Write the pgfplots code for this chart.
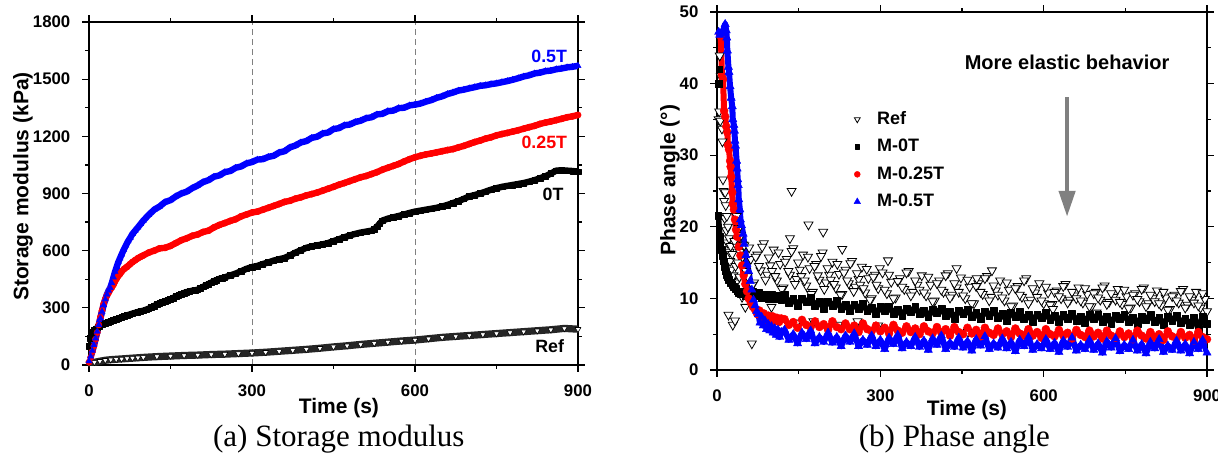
\documentclass[border=0pt]{standalone}
\usepackage{pgfplots}
\pgfplotsset{compat=1.18}
\usetikzlibrary{arrows.meta}
\usepackage{fontspec}
\setmainfont{Liberation Sans}
\newfontfamily\capfont{Liberation Serif}

\pgfplotsset{
 myax/.style={
  scale only axis,
  xmin=0, xmax=900,
  xtick={0,300,600,900},
  minor x tick num=1,
  tick align=outside,
  major tick length=3.3pt,
  minor tick length=1.8pt,
  axis line style={line width=0.6pt},
  tick style={black, line width=0.6pt},
  tick label style={font=\bfseries\fontsize{8.4}{10}\selectfont},
  /pgf/number format/assume math mode=true,
  /pgf/number format/1000 sep={},
  label style={font=\bfseries\fontsize{10.5}{12}\selectfont},
  xticklabel style={yshift=-3pt},
  yticklabel style={xshift=-2.5pt},
 }
}

\begin{document}
\begin{tikzpicture}
\path[use as bounding box] (0,0) rectangle (609pt,227.5pt);

% ---------------- (a) Storage modulus ----------------
\begin{axis}[myax, at={(44.5pt,45pt)}, anchor=south west,
  width=244.5pt, height=171.5pt,
  ymin=0, ymax=1800, ytick={0,300,...,1800}, minor y tick num=1,
  xmajorgrids, grid style={densely dashed, gray, line width=0.4pt},
  xlabel={Time (s)}, ylabel={Storage modulus (kPa)},
  xlabel style={at={(axis description cs:0.511,-0.125)}, anchor=center},
  ylabel style={at={(axis description cs:-0.135,0.52)}, anchor=center},
]
% Ref
\addplot[black!85, line width=3.6pt, line join=round, mark=triangle*, mark size=1.7pt,
  mark options={solid, line width=0.3pt, draw=black, fill=white, rotate=180}]
coordinates {(0,8)(10,14)(20,20)(30,25)(40,28)(50,30)(60,32)(70,34)(80,36)(90,38)(100,40)(125,44)(150,47)(175,50)(200,52)(225,55)(250,57)(275,60)(300,63)(325,67)(350,72)(375,77)(400,82)(425,88)(450,95)(475,101)(500,108)(525,114)(550,120)(575,126)(600,131)(625,138)(650,145)(675,150)(700,155)(725,160)(750,165)(775,170)(800,175)(825,180)(850,185)(875,192)(900,188)};
% 0T
\addplot[black, line width=3.2pt, line join=round, mark=square*, mark size=1.4pt, mark options={solid, line width=0.2pt}]
coordinates {(0,100)(2,140)(4,160)(6,170)(8,175)(10,182)(13,190)(16,198)(20,205)(25,212)(30,220)(35,225)(40,230)(45,236)(50,240)(55,245)(60,250)(65,255)(70,260)(75,265)(80,270)(85,274)(90,278)(95,282)(100,285)(105,290)(110,296)(115,302)(120,310)(125,318)(130,325)(135,330)(140,335)(145,340)(150,345)(155,352)(160,360)(165,366)(170,372)(175,378)(180,383)(185,386)(190,390)(195,392)(200,395)(205,402)(210,410)(215,418)(220,425)(225,432)(230,440)(235,446)(240,452)(245,456)(250,460)(260,470)(270,480)(280,492)(290,505)(300,514)(310,520)(320,530)(330,538)(340,548)(350,555)(360,562)(370,575)(380,590)(390,602)(400,615)(410,622)(420,628)(430,633)(440,640)(450,650)(460,660)(470,670)(480,680)(490,688)(500,695)(510,700)(520,705)(525,712)(530,725)(535,742)(540,758)(550,768)(560,775)(570,782)(580,790)(590,798)(600,805)(610,810)(620,815)(630,820)(640,825)(650,832)(660,840)(670,850)(680,860)(690,872)(700,885)(710,892)(720,900)(730,910)(740,920)(750,928)(760,935)(770,940)(780,945)(790,950)(800,955)(810,962)(820,970)(830,980)(840,990)(850,1005)(860,1020)(870,1022)(880,1020)(890,1018)(900,1015)};
% 0.25T
\addplot[red, line width=3.2pt, line join=round, mark=*, mark size=1.6pt, mark options={solid, line width=0.2pt}]
coordinates {(0,15)(3,40)(6,70)(9,100)(12,135)(15,170)(18,210)(21,250)(24,285)(27,320)(30,345)(33,365)(36,380)(39,395)(42,408)(45,422)(48,440)(51,455)(54,468)(57,478)(60,490)(65,505)(70,515)(75,528)(80,540)(85,550)(90,560)(95,568)(100,575)(110,590)(120,600)(130,612)(140,615)(150,625)(160,640)(170,655)(180,665)(190,678)(200,685)(210,698)(220,705)(230,722)(240,735)(250,745)(260,756)(270,765)(280,780)(290,790)(300,800)(310,805)(320,815)(330,825)(340,835)(350,845)(360,856)(370,862)(380,873)(390,880)(400,890)(410,897)(420,905)(430,915)(440,925)(450,935)(460,946)(470,955)(480,965)(490,975)(500,985)(510,992)(520,1002)(530,1012)(540,1025)(550,1035)(560,1045)(570,1055)(580,1068)(590,1080)(600,1090)(610,1098)(620,1105)(630,1110)(640,1116)(650,1122)(660,1128)(670,1133)(680,1142)(690,1150)(700,1160)(710,1170)(720,1178)(730,1188)(740,1195)(750,1205)(760,1212)(770,1218)(780,1225)(790,1232)(800,1240)(810,1248)(820,1255)(830,1265)(840,1272)(850,1278)(860,1285)(870,1292)(880,1300)(890,1305)(900,1312)};
% 0.5T
\addplot[blue, line width=3.2pt, line join=round, mark=triangle*, mark size=1.8pt, mark options={solid, line width=0.2pt}]
coordinates {(0,20)(3,45)(6,75)(9,105)(12,140)(15,175)(18,210)(21,245)(24,280)(27,315)(30,345)(33,370)(36,390)(39,405)(42,430)(45,460)(48,490)(51,515)(54,540)(57,560)(60,580)(64,605)(68,628)(72,650)(76,668)(80,688)(85,705)(90,722)(95,740)(100,758)(110,788)(120,815)(130,832)(140,855)(150,865)(160,885)(170,900)(180,910)(190,928)(200,942)(210,960)(220,970)(230,988)(240,995)(250,1012)(260,1018)(270,1035)(280,1042)(290,1058)(300,1065)(310,1078)(320,1080)(330,1092)(340,1098)(350,1115)(360,1122)(370,1142)(380,1152)(390,1168)(400,1175)(410,1192)(420,1198)(430,1215)(440,1220)(450,1238)(460,1243)(470,1258)(480,1262)(490,1275)(500,1282)(510,1295)(520,1300)(530,1315)(540,1318)(550,1332)(560,1335)(570,1348)(580,1350)(590,1362)(600,1366)(610,1372)(620,1382)(630,1390)(640,1402)(650,1410)(660,1422)(670,1430)(680,1440)(690,1445)(700,1452)(710,1458)(720,1465)(730,1468)(740,1474)(750,1478)(760,1484)(770,1490)(780,1497)(790,1505)(800,1514)(810,1520)(820,1530)(830,1534)(840,1542)(850,1545)(860,1552)(870,1556)(880,1562)(890,1565)(900,1570)};

\node[font=\bfseries\fontsize{8.9}{10}\selectfont, blue] at (axis cs:847,1621) {0.5T};
\node[font=\bfseries\fontsize{8.9}{10}\selectfont, red] at (axis cs:838,1168) {0.25T};
\node[font=\bfseries\fontsize{8.9}{10}\selectfont, black] at (axis cs:854,897) {0T};
\node[font=\bfseries\fontsize{8.9}{10}\selectfont, black] at (axis cs:848,100) {Ref};
\end{axis}

% ---------------- (b) Phase angle ----------------
\begin{axis}[myax, at={(358.5pt,42.5pt)}, anchor=south west,
  width=245pt, height=179pt,
  ymin=0, ymax=50, ytick={0,10,...,50}, minor y tick num=1,
  xlabel={Time (s)}, ylabel={Phase angle (°)},
  xlabel style={at={(axis description cs:0.51,-0.112)}, anchor=center},
  ylabel style={at={(axis description cs:-0.096,0.53)}, anchor=center},
  legend style={draw=none, fill=none, at={(axis cs:225,37.3)}, anchor=north west,
    font=\bfseries\fontsize{9}{10}\selectfont, row sep=1.9pt},
  legend cell align=left,
]
% Ref
\addplot[only marks, mark=triangle*, mark size=2.6pt,
  mark options={draw=black, fill=white, line width=0.4pt, rotate=180},
  legend image code/.code={\path[draw=none, fill=none] (0cm,-0.05cm) rectangle (0.48cm,0.05cm);
    \draw[black, fill=white, line width=0.4pt] plot[only marks, mark=triangle*, mark size=1.7pt, mark options={rotate=180}] coordinates {(0.2cm,0cm)};}]
coordinates {
(3,35.0)(4,36.1)(5,43.9)(6,34.8)(7,41.0)(9,33.7)(10,31.9)(11,26.6)(12,25.0)(13,23.6)(14,21.2)(15,24.8)(16,23.0)(17,19.5)(18,21.5)(19,17.8)(20,20.0)(21,7.7)(22,18.4)(23,16.5)(24,15.2)(25,17.3)(26,14.0)(27,12.4)(28,16.2)(29,6.3)(30,13.2)(31,11.7)(32,18.0)(33,6.9)(34,14.5)(35,12.2)(36,21.5)(37,17.2)(38,15.0)(40,19.8)(41,13.0)(42,16.5)(43,11.0)(44,18.8)(46,10.2)(47,15.8)(48,17.5)(52,8.8)(58,10.4)(64,3.7)
(50,17.4)(56,13.1)(62,15.5)(68,12.2)(74,16.1)(80,13.9)(86,17.7)(92,13.3)(98,14.6)(104,16.8)(110,12.5)(116,14.8)(122,11.5)(128,15.5)(134,13.3)(140,17.0)(146,12.7)(152,14.0)(158,16.1)(164,11.8)(170,14.2)(176,10.9)(182,14.8)(188,12.6)(194,16.4)(200,12.2)(206,13.3)(212,15.1)(218,11.5)(224,13.4)(230,10.6)(236,14.0)(242,12.1)(248,15.2)(254,11.6)(260,12.7)(266,14.4)(272,10.8)(278,12.8)(284,10.0)(290,13.3)(296,11.4)
(53,13.8)(59,17.1)(65,11.9)(71,15.8)(77,14.5)(83,17.2)(89,12.6)(95,15.7)(101,13.8)(107,13.1)(113,16.4)(119,11.3)(125,15.1)(131,13.8)(137,16.6)(143,12.0)(149,15.0)(155,13.1)(161,12.5)(167,15.8)(173,10.6)(179,14.5)(185,13.2)(191,15.9)(197,11.3)(203,14.2)(209,12.6)(215,12.0)(221,14.8)(227,10.5)(233,13.6)(239,12.5)(245,14.9)(251,11.0)(257,13.5)(263,11.9)(269,11.4)(275,14.1)(281,9.8)(287,13.0)(293,11.9)(299,14.2)
(304,13.6)(312,10.7)(320,12.3)(328,10.1)(336,12.8)(344,11.3)(352,13.8)(360,10.9)(368,11.9)(376,13.2)(384,10.4)(392,11.9)(400,9.7)(408,12.5)(416,10.9)(424,13.5)(432,10.5)(440,11.5)(448,12.9)(456,10.0)(464,11.6)(472,9.3)(480,12.1)(488,10.6)(496,13.1)(504,10.2)(512,11.1)(520,12.5)(528,9.7)(536,11.2)(544,9.0)(552,11.7)(560,10.2)(568,12.8)(576,9.8)(584,10.8)(592,12.1)(600,9.3)
(608,10.8)(616,9.2)(624,11.1)(632,10.0)(640,12.0)(648,9.8)(656,10.4)(664,11.5)(672,9.4)(680,10.6)(688,8.9)(696,10.9)(704,9.8)(712,11.8)(720,9.5)(728,10.2)(736,11.3)(744,9.2)(752,10.3)(760,8.7)(768,10.7)(776,9.6)(784,11.5)(792,9.3)(800,10.0)(808,11.1)(816,9.0)(824,10.1)(832,8.5)(840,10.5)(848,9.4)(856,11.3)(864,9.1)(872,9.8)(880,10.9)(888,8.7)(896,9.9)
(308,11.2)(316,13.3)(324,10.0)(332,12.4)(340,11.6)(348,13.6)(356,10.4)(364,12.5)(372,11.2)(380,10.8)(388,13.0)(396,9.6)(404,12.1)(412,11.2)(420,13.2)(428,10.1)(436,12.1)(444,10.9)(452,10.4)(460,12.6)(468,9.3)(476,11.7)(484,10.9)(492,12.8)(500,9.7)(508,11.8)(516,10.5)(524,10.1)(532,12.2)(540,8.9)(548,11.4)(556,10.5)(564,12.5)(572,9.3)(580,11.4)(588,10.2)(596,9.7)
(604,11.6)(612,9.1)(620,10.9)(628,10.3)(636,11.7)(644,9.4)(652,10.9)(660,10.0)(668,9.7)(676,11.4)(684,8.9)(692,10.7)(700,10.1)(708,11.5)(716,9.2)(724,10.7)(732,9.8)(740,9.5)(748,11.2)(756,8.6)(764,10.5)(772,9.9)(780,11.3)(788,8.9)(796,10.5)(804,9.6)(812,9.3)(820,10.9)(828,8.4)(836,10.3)(844,9.7)(852,11.0)(860,8.7)(868,10.3)(876,9.4)(884,9.0)(892,10.7)(900,8.2)
(137,25.0)(168,20.3)(195,19.3)(230,16.9)(134,18.4)(314,15.3)(100,8.8)(146,6.6)(177,6.8)(222,6.3)(258,6.8)(296,6.2)(461,5.3)(617,8.5)(697,8.0)(477,12.8)(440,14.2)(505,13.9)};
\addlegendentry{Ref}
% M-0T
\addplot[black, line width=3pt, line join=round, mark=square*, mark size=1.7pt,
  mark options={solid, draw=black, fill=black, line width=0.2pt},
  legend image code/.code={\path[draw=none, fill=none] (0cm,-0.05cm) rectangle (0.48cm,0.05cm);
    \draw[black, fill=black, line width=0.2pt] plot[only marks, mark=square*, mark size=1.2pt] coordinates {(0.2cm,0cm)};}]
coordinates {
(2,21.5)(5,18.7)(6,17.5)(8,16.8)(10,16.0)(12,15.2)(14,14.4)(16,13.8)(18,13.3)(20,13.0)(22,12.6)(25,12.2)(28,11.9)(31,11.6)(34,11.3)(37,11.0)(40,10.8)(44,10.6)(48,10.9)(52,10.3)(56,10.7)(60,10.2)(65,10.9)(70,10.4)(76,10.8)(82,10.1)(88,10.6)(94,10.0)(100,10.5)(106,9.9)(112,10.4)(118,9.8)
(124,10.5)(132,9.4)(140,10.0)(148,9.0)(156,10.0)(164,9.5)(172,10.1)(180,9.0)(188,9.6)(196,8.6)(204,9.6)(212,9.0)(220,9.7)(228,8.6)(236,9.1)(244,8.2)(252,9.2)(260,8.6)(268,9.3)(276,8.2)(284,8.7)(292,7.8)(300,8.8)
(308,8.3)(316,8.9)(324,7.9)(332,8.5)(340,7.6)(348,8.6)(356,8.1)(364,8.8)(372,7.8)(380,8.3)(388,7.4)(396,8.5)(404,8.0)(412,8.6)(420,7.6)(428,8.2)(436,7.2)(444,8.3)(452,7.8)(460,8.5)(468,7.4)(476,8.0)(484,7.1)(492,8.2)(500,7.6)(508,8.3)(516,7.3)(524,7.9)(532,6.9)(540,8.0)(548,7.5)(556,8.1)(564,7.1)(572,7.7)(580,6.8)(588,7.8)(596,7.3)
(604,8.0)(612,7.0)(620,7.6)(628,6.7)(636,7.7)(644,7.2)(652,7.9)(660,6.9)(668,7.5)(676,6.6)(684,7.7)(692,7.2)(700,7.8)(708,6.8)(716,7.4)(724,6.5)(732,7.6)(740,7.1)(748,7.8)(756,6.7)(764,7.3)(772,6.4)(780,7.5)(788,7.0)(796,7.7)(804,6.7)(812,7.3)(820,6.3)(828,7.4)(836,6.9)(844,7.6)(852,6.6)(860,7.2)(868,6.3)(876,7.3)(884,5.8)(892,7.5)(900,6.5)};
\addlegendentry{M-0T}
% M-0.25T
\addplot[red, line width=3pt, line join=round, mark=*, mark size=2pt,
  mark options={solid, draw=red, fill=red, line width=0.2pt},
  legend image code/.code={\path[draw=none, fill=none] (0cm,-0.05cm) rectangle (0.48cm,0.05cm);
    \draw[red, fill=red, line width=0.2pt] plot[only marks, mark=*, mark size=1.5pt] coordinates {(0.2cm,0cm)};}]
coordinates {
(5,47.0)(7,46.6)(9,41.2)(11,40.6)(13,36.2)(15,35.4)(17,34.0)(19,33.2)(20,31.4)(22,30.8)(24,29.2)(25,28.4)(26,27.0)(28,24.8)(29,23.2)(31,22.4)(33,21.0)(35,19.6)(37,18.6)(40,17.2)(43,16.0)(46,14.6)(49,13.2)(52,12.0)(55,11.0)(58,10.0)(62,9.4)(66,8.8)(70,8.4)(74,7.8)(78,8.3)(82,7.4)(86,7.9)(90,7.0)(94,7.6)(98,6.9)(102,7.5)(106,6.8)(110,7.3)(114,6.7)(118,7.2)
(124,7.1)(132,6.3)(140,6.7)(148,5.9)(156,7.0)(164,6.3)(172,6.0)(180,6.8)(188,6.0)(196,6.4)(204,5.6)(212,6.8)(220,6.0)(228,5.7)(236,6.5)(244,5.7)(252,6.2)(260,5.3)(268,6.5)(276,5.7)(284,5.4)(292,6.2)(300,5.4)
(308,5.9)(316,5.1)(324,6.3)(332,5.5)(340,5.2)(348,6.1)(356,5.3)(364,5.8)(372,5.0)(380,6.1)(388,5.4)(396,5.1)(404,6.0)(412,5.2)(420,5.7)(428,4.8)(436,6.0)(444,5.3)(452,5.0)(460,5.9)(468,5.1)(476,5.6)(484,4.7)(492,5.9)(500,5.2)(508,4.9)(516,5.8)(524,5.0)(532,5.4)(540,4.6)(548,5.8)(556,5.1)(564,4.8)(572,5.7)(580,4.8)(588,5.3)(596,4.5)
(604,5.7)(612,5.0)(620,4.7)(628,5.6)(636,4.8)(644,5.2)(652,4.4)(660,5.6)(668,4.9)(676,4.6)(684,5.5)(692,4.7)(700,5.2)(708,4.4)(716,5.5)(724,4.8)(732,4.5)(740,5.4)(748,4.6)(756,5.1)(764,4.3)(772,5.5)(780,4.8)(788,4.4)(796,5.3)(804,4.5)(812,5.0)(820,4.2)(828,5.4)(836,4.7)(844,4.4)(852,5.3)(860,4.5)(868,4.9)(876,4.1)(884,5.3)(892,4.6)(900,4.3)};
\addlegendentry{M-0.25T}
% M-0.5T
\addplot[blue, line width=3pt, line join=round, mark=triangle*, mark size=2.4pt,
  mark options={solid, draw=blue, fill=blue, line width=0.2pt},
  legend image code/.code={\path[draw=none, fill=none] (0cm,-0.05cm) rectangle (0.48cm,0.05cm);
    \draw[blue, fill=blue, line width=0.2pt] plot[only marks, mark=triangle*, mark size=1.9pt] coordinates {(0.2cm,0cm)};}]
coordinates {
(3,47.2)(5,46.8)(8,47.0)(12,47.6)(15,48.3)(17,47.4)(18,46.4)(19,44.6)(21,42.3)(22,41.6)(24,39.6)(26,38.0)(28,36.8)(29,35.0)(31,34.2)(32,33.4)(33,32.0)(34,31.3)(36,29.2)(37,28.1)(38,26.6)(39,25.8)(40,23.8)(42,22.4)(43,21.0)(45,20.2)(48,19.0)(50,17.6)(53,16.0)(55,14.8)(58,13.8)(61,12.4)(64,11.2)(67,9.8)(70,9.0)(73,8.2)(76,7.8)(79,6.6)(82,7.4)(85,6.2)(88,6.9)(91,5.7)(94,6.4)(97,5.5)(100,6.1)(103,5.2)(106,5.8)(109,4.9)(112,5.6)(115,4.6)(118,5.3)
(124,5.6)(132,4.2)(140,5.0)(148,3.7)(156,5.2)(164,4.3)(172,5.5)(180,3.7)(188,4.6)(196,3.9)(204,5.2)(212,3.8)(220,4.6)(228,3.3)(236,4.8)(244,3.9)(252,5.1)(260,3.3)(268,4.2)(276,3.5)(284,4.8)(292,3.3)(300,4.2)
(308,2.9)(316,4.5)(324,3.6)(332,4.9)(340,3.0)(348,3.9)(356,3.3)(364,4.6)(372,3.2)(380,4.1)(388,2.8)(396,4.4)(404,3.5)(412,4.8)(420,2.9)(428,3.8)(436,3.2)(444,4.5)(452,3.1)(460,4.0)(468,2.7)(476,4.3)(484,3.4)(492,4.7)(500,2.9)(508,3.7)(516,3.1)(524,4.4)(532,3.0)(540,3.9)(548,2.6)(556,4.2)(564,3.3)(572,4.6)(580,2.8)(588,3.6)(596,3.0)
(604,4.3)(612,2.9)(620,3.8)(628,2.5)(636,4.1)(644,3.2)(652,4.5)(660,2.7)(668,3.5)(676,2.9)(684,4.2)(692,2.8)(700,3.7)(708,2.4)(716,4.0)(724,3.1)(732,4.4)(740,2.6)(748,3.5)(756,2.9)(764,4.2)(772,2.7)(780,3.6)(788,2.3)(796,3.9)(804,3.0)(812,4.3)(820,2.5)(828,3.4)(836,2.8)(844,4.1)(852,2.7)(860,3.6)(868,2.3)(876,3.9)(884,2.9)(892,4.2)(900,2.4)};
\addlegendentry{M-0.5T}
% early M-0T points away from the band
\addplot[forget plot, only marks, mark=square*, mark size=1.7pt, mark options={draw=black, fill=black, line width=0.2pt}]
coordinates {(3,40.0)(4,42.0)};

\draw[gray, line width=2.2pt, -{Triangle[width=8pt,length=13pt]}] (axis cs:643,38.1) -- (axis cs:643,21.4);
\node[font=\bfseries\fontsize{10}{12}\selectfont] at (axis cs:643,42.9) {More elastic behavior};
\end{axis}

\node[font=\capfont\fontsize{15.5}{18}\selectfont, anchor=base] at (169.4pt,4.15pt) {(a) Storage modulus};
\node[font=\capfont\fontsize{15.5}{18}\selectfont, anchor=base] at (477.2pt,4.15pt) {(b) Phase angle};
\end{tikzpicture}
\end{document}
